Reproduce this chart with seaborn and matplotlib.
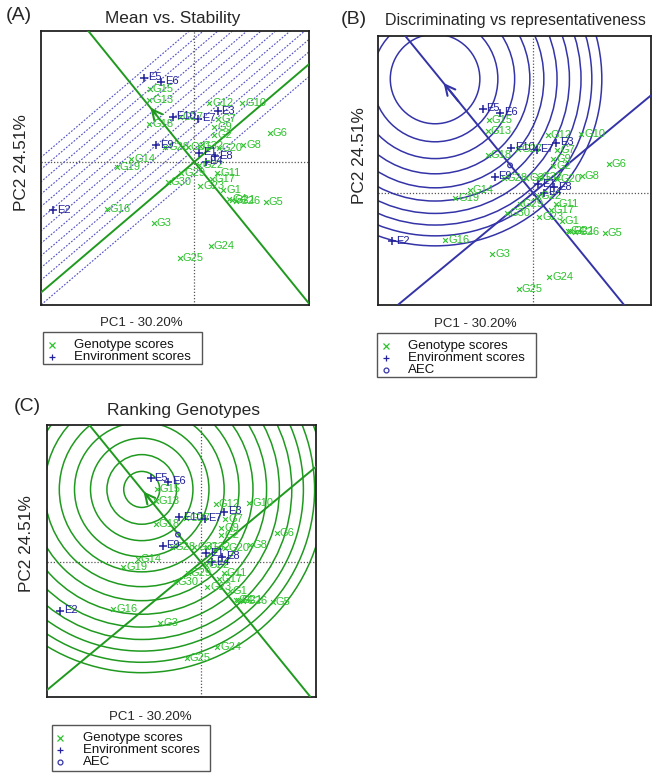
import numpy as np
import pandas as pd
import matplotlib
matplotlib.use('Agg')
import matplotlib.pyplot as plt
import seaborn as sns
from matplotlib.patches import Circle, Rectangle
from matplotlib.lines import Line2D

sns.set_style('white')
plt.rcParams['font.family'] = ['Liberation Sans', 'DejaVu Sans']

# ---------------- data ----------------
gen_names = ['G1', 'G2', 'G3', 'G4', 'G5', 'G6', 'G7', 'G8', 'G9', 'G10',
             'G11', 'G12', 'G13', 'G14', 'G15', 'G16', 'G17', 'G18', 'G19', 'G20',
             'G21', 'G22', 'G23', 'G24', 'G25', 'G26', 'G27', 'G28', 'G29', 'G30',
             'G31', 'G32']
gen_pc1 = [0.72, 0.50, -1.02, 0.87, 1.79, 1.89, 0.60, 1.22, 0.50, 1.20,
           0.57, 0.37, -1.13, -1.58, -1.11, -2.19, 0.44, -1.13, -1.94, 0.61,
           0.93, 0.12, 0.15, 0.41, -0.36, 1.05, -0.37, -0.73, -0.33, -0.66,
           -0.17, 0.14]
gen_pc2 = [-0.71, 0.68, -1.52, -0.94, -1.00, 0.72, 1.08, 0.43, 0.86, 1.47,
           -0.27, 1.46, 1.54, 0.08, 1.83, -1.17, -0.42, 0.95, -0.12, 0.35,
           -0.95, -0.08, -0.61, -2.11, -2.40, -0.97, 1.11, 0.37, -0.27, -0.50,
           0.37, 0.39]

env_names = ['E1', 'E2', 'E3', 'E4', 'E5', 'E6', 'E7', 'E8', 'E9', 'E10']
env_pc1 = [0.12, -3.52, 0.58, 0.28, -1.26, -0.83, 0.09, 0.52, -0.96, -0.54]
env_pc2 = [0.22, -1.21, 1.26, 0.00, 2.10, 2.01, 1.08, 0.14, 0.41, 1.12]

aec_pc1 = [-0.575]
aec_pc2 = [0.69]

# panel A: mean vs stability
a_aea_slope = -1.235
a_ord_slope = 0.852
a_arrow = (-1.14, 1.41)
a_dash_offsets = [-0.31, 0.31, 0.62, 0.92, 1.23, 1.54, 1.85, 2.15, 2.46, 2.77, 3.08, 3.38]

# panel B: discriminating vs representativeness
b_aea_slope = -1.228
b_ord_slope = 0.827
b_arrow = (-2.28, 2.80)
b_center = (-2.45, 2.85)
b_radii = [1.12, 1.57, 1.99, 2.37, 2.72, 3.05, 3.36, 3.65, 3.92, 4.17]

# panel C: ranking genotypes
c_aea_slope = -1.23
c_ord_slope = 0.83
c_arrow = (-1.48, 1.82)
c_radii = [0.45, 0.87, 1.28, 1.68, 2.06, 2.43, 2.78, 3.12, 3.44, 3.75, 4.04, 4.32, 4.58]

gen = pd.DataFrame({'name': gen_names, 'PC1': gen_pc1, 'PC2': gen_pc2})
env = pd.DataFrame({'name': env_names, 'PC1': env_pc1, 'PC2': env_pc2})
aec = pd.DataFrame({'PC1': aec_pc1, 'PC2': aec_pc2})

GEN_COL = '#2cc22c'
ENV_COL = '#22229a'
GREEN = '#1f9a1f'
BLUE = '#3434a8'

W, H = 661, 778
fig = plt.figure(figsize=(W / 100, H / 100), dpi=100)


def px_axes(l, t, r, b):
    return fig.add_axes([l / W, 1 - b / H, (r - l) / W, (b - t) / H])


def base_panel(ax, xlim, ylim):
    ax.set_xlim(*xlim)
    ax.set_ylim(*ylim)
    ax.set_xticks([])
    ax.set_yticks([])
    for sp in ax.spines.values():
        sp.set_linewidth(1.3)
        sp.set_color('#222222')
    ax.axhline(0, ls=(0, (1, 1.5)), color='#555555', lw=0.9, zorder=1)
    ax.axvline(0, ls=(0, (1, 1.5)), color='#555555', lw=0.9, zorder=1)


def draw_points(ax, show_aec):
    sns.scatterplot(data=gen, x='PC1', y='PC2', marker='x', color=GEN_COL,
                    s=12, linewidth=0.8, ax=ax, legend=False, zorder=5)
    sns.scatterplot(data=env, x='PC1', y='PC2', marker='+', color=ENV_COL,
                    s=34, linewidth=1.1, ax=ax, legend=False, zorder=6)
    for _, r in gen.iterrows():
        ax.annotate(r['name'], (r['PC1'], r['PC2']), xytext=(2.2, 0),
                    textcoords='offset points', va='center', ha='left',
                    fontsize=8, color=GEN_COL, zorder=7)
    for _, r in env.iterrows():
        ax.annotate(r['name'], (r['PC1'], r['PC2']), xytext=(2.8, 0.5),
                    textcoords='offset points', va='center', ha='left',
                    fontsize=8, color=ENV_COL, zorder=8)
    if show_aec:
        sns.scatterplot(data=aec, x='PC1', y='PC2', marker='o', s=11,
                        facecolor='none', edgecolor=BLUE, linewidth=0.9,
                        ax=ax, legend=False, zorder=6)
    ax.set_xlabel('')
    ax.set_ylabel('')


def draw_arrow(ax, tip, col):
    tail = (tip[0] * 0.8, tip[1] * 0.8)
    ax.annotate('', xy=tip, xytext=tail,
                arrowprops=dict(arrowstyle='->', color=col, lw=1.5,
                                mutation_scale=18), zorder=4)


def legend_box(l, t, r, b, rows):
    fig.add_artist(Rectangle((l / W, 1 - b / H), (r - l) / W, (b - t) / H,
                             transform=fig.transFigure, fill=False,
                             ec='#555555', lw=1.0))
    for i, (mk, col, label) in enumerate(rows):
        y = t + 12.5 + i * 12.3
        if mk == 'o':
            fig.add_artist(Line2D([(l + 8.5) / W], [1 - y / H], marker='o', ms=3.5,
                                  mfc='none', mec=col, mew=0.9, ls='none',
                                  transform=fig.transFigure))
        else:
            fig.add_artist(Line2D([(l + 8.5) / W], [1 - y / H], marker=mk,
                                  ms=4 if mk == 'x' else 5, color=col, mew=0.9,
                                  ls='none', transform=fig.transFigure))
        fig.text((l + 31) / W, 1 - y / H, label, fontsize=9.5, va='center',
                 ha='left', color='#111111')


# ---------------- (A) ----------------
axA = px_axes(40.7, 30.7, 308.7, 304.7)
base_panel(axA, (-3.84, 2.86), (-3.57, 3.28))
for c in a_dash_offsets:
    axA.axline((0, c), slope=a_ord_slope, color='#5050c4', lw=0.8,
               ls=(0, (1.6, 1.4)), zorder=2)
axA.axline((0, 0), slope=a_ord_slope, color=GREEN, lw=1.4, zorder=3)
axA.axline((0, 0), slope=a_aea_slope, color=GREEN, lw=1.4, zorder=3)
draw_arrow(axA, a_arrow, GREEN)
draw_points(axA, False)

# ---------------- (B) ----------------
axB = px_axes(378.3, 35.7, 651, 304.7)
base_panel(axB, (-3.87, 2.95), (-2.79, 3.93))
for r in b_radii:
    axB.add_patch(Circle(b_center, r, fill=False, ec=BLUE, lw=1.1, zorder=2))
axB.axline((0, 0), slope=b_ord_slope, color=BLUE, lw=1.4, zorder=3)
axB.axline((0, 0), slope=b_aea_slope, color=BLUE, lw=1.4, zorder=3)
draw_arrow(axB, b_arrow, BLUE)
draw_points(axB, True)

# ---------------- (C) ----------------
axC = px_axes(47.3, 425, 316, 696.7)
base_panel(axC, (-3.84, 2.875), (-3.36, 3.43))
for r in c_radii:
    axC.add_patch(Circle(c_arrow, r, fill=False, ec=GREEN, lw=1.1, zorder=2))
axC.axline((0, 0), slope=c_ord_slope, color=GREEN, lw=1.4, zorder=3)
axC.axline((0, 0), slope=c_aea_slope, color=GREEN, lw=1.4, zorder=3)
draw_arrow(axC, c_arrow, GREEN)
draw_points(axC, True)

# ---------------- texts ----------------
fig.text(18.5 / W, 1 - 15 / H, '(A)', fontsize=14, ha='center', va='center')
fig.text(354 / W, 1 - 20 / H, '(B)', fontsize=14, ha='center', va='center')
fig.text(27.5 / W, 1 - 406.7 / H, '(C)', fontsize=14, ha='center', va='center')

fig.text(172.5 / W, 1 - 18 / H, 'Mean vs. Stability', fontsize=12.4, ha='center', va='center')
fig.text(515.5 / W, 1 - 20 / H, 'Discriminating vs representativeness', fontsize=11.5,
         ha='center', va='center')
fig.text(183.5 / W, 1 - 410.7 / H, 'Ranking Genotypes', fontsize=12.5, ha='center', va='center')

fig.text(21.7 / W, 1 - 163 / H, 'PC2 24.51%', fontsize=12.4, rotation=90, ha='center', va='center')
fig.text(360 / W, 1 - 156 / H, 'PC2 24.51%', fontsize=12.4, rotation=90, ha='center', va='center')
fig.text(26.7 / W, 1 - 544 / H, 'PC2 24.51%', fontsize=12.4, rotation=90, ha='center', va='center')

fig.text(141 / W, 1 - 323 / H, 'PC1 - 30.20%', fontsize=9.5, ha='center', va='center')
fig.text(475 / W, 1 - 324 / H, 'PC1 - 30.20%', fontsize=9.5, ha='center', va='center')
fig.text(150 / W, 1 - 716.7 / H, 'PC1 - 30.20%', fontsize=9.5, ha='center', va='center')

rows2 = [('x', GEN_COL, 'Genotype scores'), ('+', ENV_COL, 'Environment scores')]
rows3 = rows2 + [('o', BLUE, 'AEC')]
legend_box(43.3, 332.3, 202, 364, rows2)
legend_box(377, 333, 536, 377, rows3)
legend_box(51.7, 725, 210, 770.7, rows3)

fig.savefig('out.png', dpi=100)
